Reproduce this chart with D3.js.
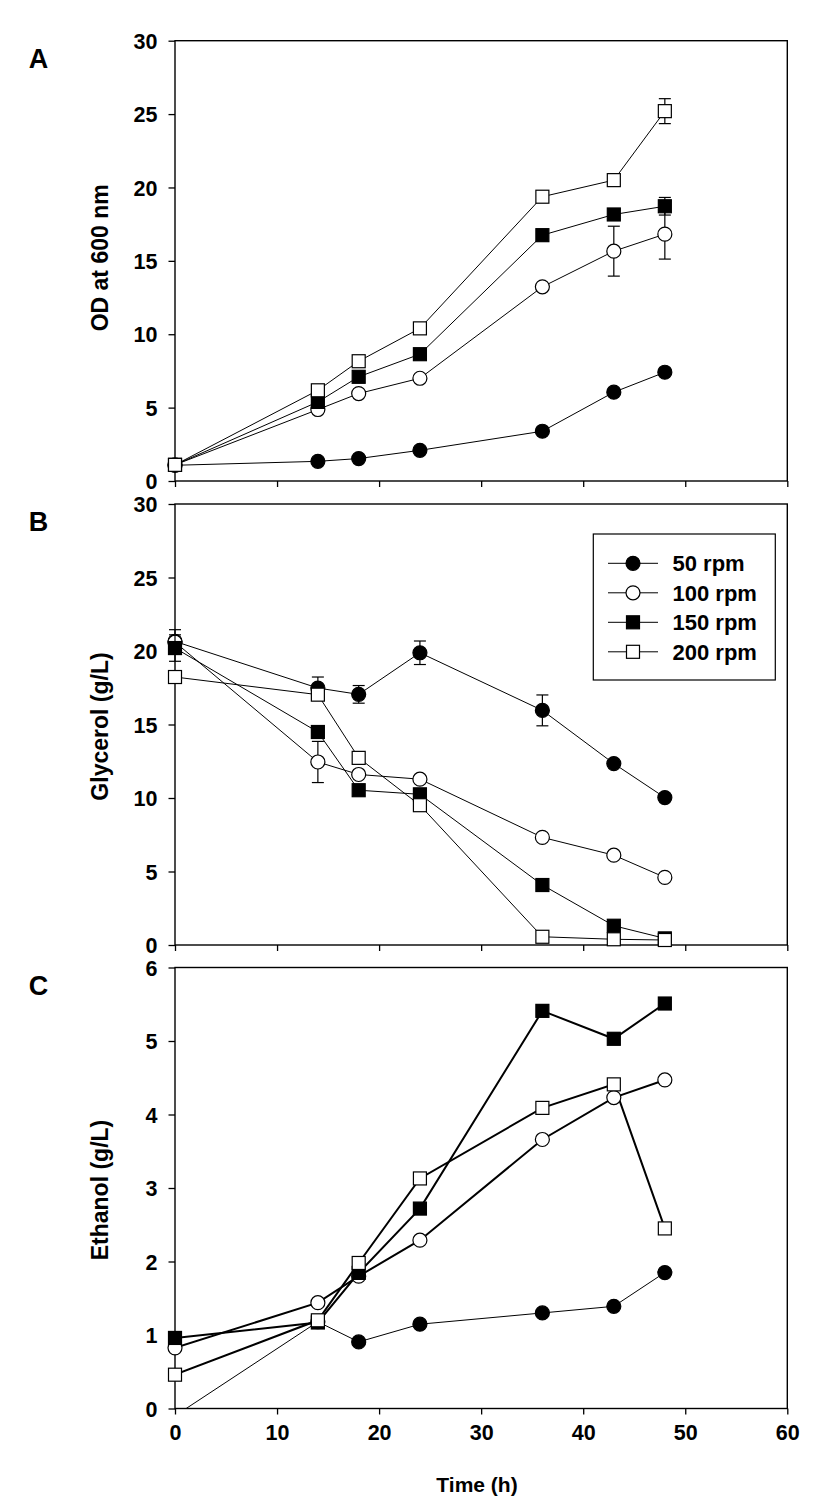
<!DOCTYPE html>
<html><head><meta charset="utf-8">
<script src="https://cdn.jsdelivr.net/npm/d3@7"></script>
<style>body{margin:0;background:#fff;} text{font-family:"Liberation Sans",Arial,sans-serif;font-weight:bold;}</style>
</head><body>
<svg id="chart" width="830" height="1501"></svg>
<script>
const times = [0, 14, 18, 24, 36, 43, 48];
const seriesNames = ["50 rpm", "100 rpm", "150 rpm", "200 rpm"];
const seriesFill = ["#000", "#fff", "#000", "#fff"];
const seriesShape = ["circle", "circle", "square", "square"];

// Panel A: OD at 600 nm
const od50 = [1.07, 1.34, 1.53, 2.09, 3.39, 6.05, 7.41];
const od100 = [1.1, 4.87, 5.96, 7.0, 13.23, 15.66, 16.82];
const od150 = [1.1, 5.39, 7.1, 8.64, 16.75, 18.16, 18.72];
const od200 = [1.1, 6.18, 8.16, 10.4, 19.37, 20.5, 25.2];
const odErr50 = [0, 0, 0, 0, 0, 0, 0];
const odErr100 = [0, 0, 0, 0, 0, 1.7, 1.7];
const odErr150 = [0, 0, 0, 0, 0, 0, 0.6];
const odErr200 = [0, 0, 0, 0, 0, 0, 0.85];

// Panel B: Glycerol (g/L)
const gly50 = [20.65, 17.48, 17.05, 19.88, 15.96, 12.34, 10.03];
const gly100 = [20.6, 12.45, 11.6, 11.28, 7.32, 6.11, 4.6];
const gly150 = [20.2, 14.49, 10.53, 10.25, 4.08, 1.31, 0.45];
const gly200 = [18.23, 17.03, 12.73, 9.51, 0.56, 0.39, 0.34];
const glyErr50 = [0.8, 0.75, 0.6, 0.8, 1.05, 0, 0];
const glyErr100 = [0, 1.4, 0, 0, 0, 0, 0];
const glyErr150 = [0.9, 0, 0, 0, 0, 0, 0];
const glyErr200 = [0, 0, 0, 0, 0, 0, 0];

// Panel C: Ethanol (g/L)
const eth50 = [-0.1, 1.18, 0.906, 1.147, 1.3, 1.39, 1.85];
const eth100 = [0.825, 1.44, 1.8, 2.29, 3.66, 4.23, 4.47];
const eth150 = [0.96, 1.17, 1.845, 2.72, 5.41, 5.03, 5.51];
const eth200 = [0.46, 1.2, 1.98, 3.13, 4.09, 4.41, 2.45];

const xTicks = [0, 10, 20, 30, 40, 50, 60];
const yTicksAB = [0, 5, 10, 15, 20, 25, 30];
const yTicksC = [0, 1, 2, 3, 4, 5, 6];

const panels = [
  {label: "A", title: "OD at 600 nm", top: 40.7, bottom: 481, domain: [0, 30], ticks: yTicksAB,
   series: [od50, od100, od150, od200], errs: [odErr50, odErr100, odErr150, odErr200], widths: [1, 1, 1, 1], xLabels: false, legend: false},
  {label: "B", title: "Glycerol (g/L)", top: 504, bottom: 945, domain: [0, 30], ticks: yTicksAB,
   series: [gly50, gly100, gly150, gly200], errs: [glyErr50, glyErr100, glyErr150, glyErr200], widths: [1, 1, 1, 1], xLabels: false, legend: true},
  {label: "C", title: "Ethanol (g/L)", top: 967.5, bottom: 1408.5, domain: [0, 6], ticks: yTicksC,
   series: [eth50, eth100, eth150, eth200], errs: null, widths: [1, 2, 2, 2], xLabels: true, legend: false}
];

const svg = d3.select("#chart");
const left = 175, right = 787.3;
const x = d3.scaleLinear().domain([0, 60]).range([left, right]);

function drawMarker(g, shape, fill, cx, cy) {
  if (shape === "circle") {
    g.append("circle").attr("cx", cx).attr("cy", cy).attr("r", 7)
      .attr("fill", fill).attr("stroke", "#000").attr("stroke-width", 1.2);
  } else {
    g.append("rect").attr("x", cx - 6.5).attr("y", cy - 6.5).attr("width", 13).attr("height", 13)
      .attr("fill", fill).attr("stroke", "#000").attr("stroke-width", 1.2);
  }
}

panels.forEach((p, pi) => {
  const y = d3.scaleLinear().domain(p.domain).range([p.bottom, p.top]);
  const g = svg.append("g");
  const clipId = "clip" + pi;
  svg.append("clipPath").attr("id", clipId).append("rect")
    .attr("x", left).attr("y", p.top).attr("width", right - left).attr("height", p.bottom - p.top);

  const yAxis = d3.axisLeft(y).tickValues(p.ticks).tickSize(6.5).tickPadding(11).tickFormat(d3.format("d"));
  const gy = g.append("g").attr("transform", `translate(${left},0)`).call(yAxis);
  const xAxis = d3.axisBottom(x).tickValues(xTicks).tickSize(6).tickPadding(10)
    .tickFormat(p.xLabels ? d3.format("d") : () => "");
  const gx = g.append("g").attr("transform", `translate(0,${p.bottom})`).call(xAxis);
  [gx, gy].forEach(a => {
    a.select(".domain").remove();
    a.selectAll("line").attr("stroke", "#000").attr("stroke-width", 1.3);
    a.selectAll("text").attr("font-size", 21.5).attr("fill", "#000").style("font-weight", "bold");
  });
  gy.selectAll("text").attr("dy", "0.36em");
  g.append("rect").attr("x", left).attr("y", p.top).attr("width", right - left).attr("height", p.bottom - p.top)
    .attr("fill", "none").attr("stroke", "#000").attr("stroke-width", 1.4);

  g.append("text").attr("x", 38.5).attr("y", p.top + 27).attr("text-anchor", "middle")
    .attr("font-size", 27).text(p.label);
  const cy = (p.top + p.bottom) / 2 + (pi === 0 ? -3 : 2);
  g.append("text").attr("transform", `translate(108,${cy}) rotate(-90)`).attr("text-anchor", "middle")
    .attr("font-size", 23).text(p.title);

  const data = g.append("g");
  const lines = data.append("g").attr("clip-path", `url(#${clipId})`);
  const line = d3.line().x((d, i) => x(times[i])).y(d => y(d));
  p.series.forEach((s, si) => {
    lines.append("path").attr("d", line(s)).attr("fill", "none").attr("stroke", "#000")
      .attr("stroke-width", p.widths[si]);
  });
  p.series.forEach((s, si) => {
    const sg = data.append("g");
    if (p.errs) {
      p.errs[si].forEach((e, i) => {
        if (!e) return;
        const cx = x(times[i]);
        const y1 = y(s[i] + e), y0 = y(s[i] - e);
        sg.append("line").attr("x1", cx).attr("x2", cx).attr("y1", y1).attr("y2", y0).attr("stroke", "#000").attr("stroke-width", 1.2);
        [y1, y0].forEach(yy => sg.append("line").attr("x1", cx - 6).attr("x2", cx + 6).attr("y1", yy).attr("y2", yy).attr("stroke", "#000").attr("stroke-width", 1.2));
      });
    }
    s.forEach((v, i) => {
      if (v < p.domain[0]) return;
      drawMarker(sg, seriesShape[si], seriesFill[si], x(times[i]), y(v));
    });
  });

  if (p.legend) {
    const lg = g.append("g");
    lg.append("rect").attr("x", 593.3).attr("y", 534).attr("width", 182).attr("height", 146)
      .attr("fill", "#fff").attr("stroke", "#000").attr("stroke-width", 1.2);
    seriesNames.forEach((n, si) => {
      const ly = 563.3 + si * 29.5;
      lg.append("line").attr("x1", 608).attr("x2", 658).attr("y1", ly).attr("y2", ly).attr("stroke", "#000").attr("stroke-width", 1);
      drawMarker(lg, seriesShape[si], seriesFill[si], 633, ly);
      lg.append("text").attr("x", 672.5).attr("y", ly).attr("dy", "0.36em").attr("font-size", 22).text(n);
    });
  }
});

svg.append("text").attr("x", 477).attr("y", 1492).attr("text-anchor", "middle")
  .attr("font-size", 21).text("Time (h)");
</script>
</body></html>
